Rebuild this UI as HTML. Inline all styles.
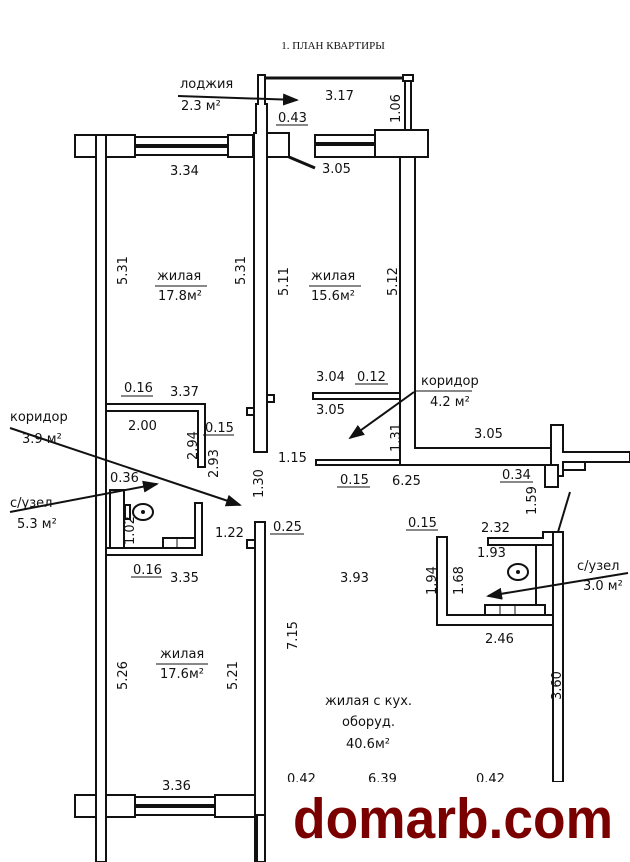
<!DOCTYPE html>
<html><head><meta charset="utf-8"><style>
html,body{margin:0;padding:0;background:#fff;}
svg{display:block;}
text{font-family:"DejaVu Sans","Liberation Sans",sans-serif;font-size:13px;fill:#111;}
.t{font-family:"Liberation Serif",serif;font-size:11px;}
.w{fill:#fff;stroke:#111;stroke-width:2;}
.l{stroke:#111;stroke-width:2;fill:none;}
</style></head><body>
<svg width="630" height="862" viewBox="0 0 630 862" xmlns="http://www.w3.org/2000/svg">
<defs><marker id="a" markerWidth="8" markerHeight="6" refX="7" refY="3" orient="auto"><path d="M0,0 L8,3 L0,6 z" fill="#111"/></marker></defs>
<text class="t" x="333" y="49" text-anchor="middle">1. ПЛАН КВАРТИРЫ</text>

<rect class="w" x="96" y="135" width="10" height="727"/>
<rect class="w" x="75" y="135" width="21" height="22"/>
<rect class="w" x="106" y="135" width="29" height="22"/>
<rect class="w" x="135" y="137" width="93" height="18"/>
<line x1="135" y1="146" x2="228" y2="146" stroke="#111" stroke-width="4"/>
<rect class="w" x="228" y="135" width="25" height="22"/>
<path class="w" d="M254,452 V133 H256 V104 H258 V75 H265 V104 H267 V452 Z"/>
<rect class="w" x="267" y="133" width="22" height="24"/>
<line x1="289" y1="157" x2="315" y2="168" stroke="#111" stroke-width="3"/>
<rect class="w" x="315" y="135" width="60" height="22"/>
<line x1="315" y1="144" x2="375" y2="144" stroke="#111" stroke-width="4"/>
<rect class="w" x="375" y="130" width="53" height="27"/>
<line x1="265" y1="78" x2="405" y2="78" stroke="#111" stroke-width="3"/>
<rect class="w" x="403" y="75" width="10" height="6"/>
<rect class="w" x="405" y="81" width="6" height="49"/>
<path class="l" d="M400,157 V465 H550"/>
<path class="l" d="M415,157 V448 H550"/>
<rect class="w" x="316" y="460" width="84" height="5"/>
<rect class="w" x="313" y="393" width="87" height="6"/>
<path class="w" d="M551,425 H563 V452 H630 V462 H563 V476 H551 Z"/>
<rect class="w" x="563" y="462" width="22" height="8"/>
<rect class="w" x="545" y="465" width="13" height="22"/>
<rect class="w" x="553" y="532" width="10" height="250"/>
<rect class="w" x="255" y="522" width="10" height="340"/>
<rect class="w" x="247" y="540" width="8" height="8"/>
<rect class="w" x="247" y="408" width="7" height="7"/>
<rect class="w" x="267" y="395" width="7" height="7"/>
<path class="w" d="M106,404 H205 V467 H198 V411 H106 Z"/>
<path class="w" d="M106,548 H195 V503 H202 V555 H106 Z"/>
<rect class="w" x="110" y="490" width="14" height="58"/>
<rect class="w" x="163" y="538" width="32" height="10"/>
<line x1="177" y1="538" x2="177" y2="548" stroke="#111"/>
<ellipse cx="143" cy="512" rx="10" ry="8" class="l"/>
<circle cx="143" cy="512" r="2" fill="#111"/>
<rect x="125" y="505" width="5" height="14" class="l"/>
<rect class="w" x="75" y="795" width="21" height="22"/>
<rect class="w" x="106" y="795" width="29" height="22"/>
<rect class="w" x="135" y="797" width="80" height="18"/>
<line x1="135" y1="806" x2="215" y2="806" stroke="#111" stroke-width="4"/>
<rect class="w" x="215" y="795" width="40" height="22"/>
<path class="w" d="M437,537 H447 V615 H553 V625 H437 Z"/>
<path class="w" d="M488,538 H543 V532 H553 V545 H488 Z"/>
<line x1="536" y1="545" x2="536" y2="615" stroke="#111" stroke-width="2"/>
<rect class="w" x="485" y="605" width="60" height="10"/>
<line x1="500" y1="605" x2="500" y2="615" stroke="#111"/><line x1="515" y1="605" x2="515" y2="615" stroke="#111"/>
<ellipse cx="518" cy="572" rx="10" ry="8" class="l" stroke-width="3"/>
<circle cx="518" cy="572" r="2" fill="#111"/>

<line x1="178" y1="96" x2="297" y2="100" class="l" stroke-width="1" marker-end="url(#a)"/>
<line x1="414" y1="392" x2="350" y2="438" class="l" stroke-width="1" marker-end="url(#a)"/>
<line x1="10" y1="428" x2="240" y2="505" class="l" stroke-width="1" marker-end="url(#a)"/>
<line x1="10" y1="512" x2="157" y2="484" class="l" stroke-width="1" marker-end="url(#a)"/>
<line x1="628" y1="573" x2="488" y2="596" class="l" stroke-width="1" marker-end="url(#a)"/>
<line x1="570" y1="492" x2="558" y2="532" class="l" stroke-width="1"/>

<text x="180" y="88">лоджия</text><text x="181" y="110">2.3 м²</text>
<text x="325" y="100">3.17</text>
<text x="278" y="122">0.43</text><line x1="276" y1="125" x2="308" y2="125" stroke="#111"/>
<text x="322" y="173">3.05</text>
<text transform="translate(400,123) rotate(-90)">1.06</text>
<text x="170" y="175">3.34</text>
<text transform="translate(127,285) rotate(-90)">5.31</text>
<text transform="translate(245,285) rotate(-90)">5.31</text>
<text transform="translate(288,296) rotate(-90)">5.11</text>
<text transform="translate(397,296) rotate(-90)">5.12</text>
<text x="157" y="280">жилая</text><line x1="155" y1="286" x2="207" y2="286" stroke="#111"/><text x="158" y="300">17.8м²</text>
<text x="311" y="280">жилая</text><line x1="309" y1="286" x2="361" y2="286" stroke="#111"/><text x="311" y="300">15.6м²</text>
<text x="124" y="392">0.16</text><line x1="121" y1="396" x2="153" y2="396" stroke="#111"/>
<text x="170" y="396">3.37</text>
<text x="128" y="430">2.00</text>
<text transform="translate(197,460) rotate(-90)">2.94</text>
<text x="205" y="432">0.15</text><line x1="203" y1="435" x2="234" y2="435" stroke="#111"/>
<text transform="translate(218,478) rotate(-90)">2.93</text>
<text transform="translate(263,498) rotate(-90)">1.30</text>
<text x="278" y="462">1.15</text>
<text x="316" y="381">3.04</text><text x="357" y="381">0.12</text><line x1="355" y1="384" x2="388" y2="384" stroke="#111"/>
<text x="316" y="414">3.05</text>
<text x="421" y="385">коридор</text><line x1="414" y1="391" x2="472" y2="391" stroke="#111"/><text x="430" y="406">4.2 м²</text>
<text transform="translate(400,452) rotate(-90)">1.31</text>
<text x="474" y="438">3.05</text>
<text x="340" y="484">0.15</text><line x1="337" y1="487" x2="370" y2="487" stroke="#111"/>
<text x="392" y="485">6.25</text>
<text x="502" y="479">0.34</text><line x1="500" y1="482" x2="533" y2="482" stroke="#111"/>
<text transform="translate(536,515) rotate(-90)">1.59</text>
<text x="10" y="421">коридор</text><text x="22" y="443">3.9 м²</text>
<text x="110" y="482">0.36</text>
<text x="10" y="507">с/узел</text><text x="17" y="528">5.3 м²</text>
<text transform="translate(134,545) rotate(-90)">1.02</text>
<text x="133" y="574">0.16</text><line x1="131" y1="577" x2="162" y2="577" stroke="#111"/>
<text x="170" y="582">3.35</text>
<text x="215" y="537">1.22</text>
<text x="273" y="531">0.25</text><line x1="270" y1="534" x2="304" y2="534" stroke="#111"/>
<text x="408" y="527">0.15</text><line x1="406" y1="530" x2="438" y2="530" stroke="#111"/>
<text x="481" y="532">2.32</text>
<text x="477" y="557">1.93</text>
<text x="340" y="582">3.93</text>
<text transform="translate(436,595) rotate(-90)">1.94</text>
<text transform="translate(463,595) rotate(-90)">1.68</text>
<text x="577" y="570">с/узел</text><text x="583" y="590">3.0 м²</text>
<text x="485" y="643">2.46</text>
<text transform="translate(297,650) rotate(-90)">7.15</text>
<text transform="translate(127,690) rotate(-90)">5.26</text>
<text transform="translate(237,690) rotate(-90)">5.21</text>
<text x="160" y="658">жилая</text><line x1="156" y1="664" x2="208" y2="664" stroke="#111"/><text x="160" y="678">17.6м²</text>
<text x="325" y="705">жилая с кух.</text><text x="342" y="726">оборуд.</text><text x="346" y="748">40.6м²</text>
<text transform="translate(561,700) rotate(-90)">3.60</text>
<text x="162" y="790">3.36</text>
<text x="287" y="783">0.42</text><text x="368" y="783">6.39</text><text x="476" y="783">0.42</text>

<rect x="270" y="782" width="360" height="80" fill="#fff"/>
<path class="w" d="M257,815 H265 V862 H257 Z"/>
<text x="293" y="838" style="font-family:'Liberation Sans',sans-serif;font-weight:bold;font-size:57px;fill:#7a0000" textLength="320" lengthAdjust="spacingAndGlyphs">domarb.com</text>
</svg>
</body></html>
